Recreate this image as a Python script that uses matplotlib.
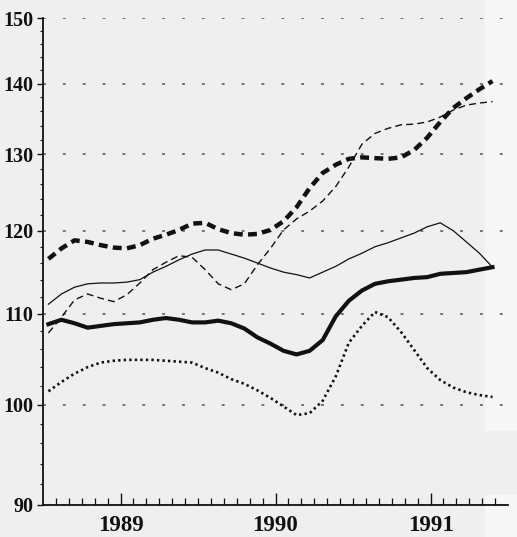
import numpy as np
import matplotlib
matplotlib.use("Agg")
import matplotlib.pyplot as plt
from matplotlib.ticker import FixedLocator, FixedFormatter, NullFormatter
from matplotlib.patches import Rectangle

# ---- data ----
x_start, x_end, n_pts = 1989.035, 1991.9, 35

heavy_dashed = [116.5, 117.8, 118.8, 118.6, 118.2, 117.9, 117.8, 118.2, 119.0, 119.5,
                120.1, 120.9, 121.0, 120.2, 119.7, 119.5, 119.6, 120.1, 121.2, 123.0,
                125.5, 127.5, 128.6, 129.4, 129.6, 129.5, 129.4, 129.6, 130.6, 132.3,
                134.5, 136.5, 137.9, 139.2, 140.4]

thin_dashed = [107.8, 109.6, 111.6, 112.3, 111.8, 111.4, 112.2, 113.6, 115.2, 116.1,
               116.9, 116.7, 115.2, 113.5, 112.8, 113.5, 115.8, 117.8, 120.1, 121.5,
               122.5, 123.8, 125.7, 128.3, 131.4, 132.9, 133.6, 134.1, 134.2, 134.5,
               135.2, 136.2, 136.9, 137.2, 137.4]

thin_solid = [111.1, 112.3, 113.1, 113.5, 113.6, 113.6, 113.7, 114.0, 114.9, 115.6,
              116.4, 117.1, 117.6, 117.6, 117.1, 116.6, 116.0, 115.4, 114.9, 114.6,
              114.2, 114.9, 115.6, 116.5, 117.2, 118.0, 118.5, 119.1, 119.7, 120.5,
              121.0, 120.0, 118.6, 117.2, 115.5]

heavy_solid = [108.8, 109.3, 108.9, 108.4, 108.6, 108.8, 108.9, 109.0, 109.3, 109.5,
               109.3, 109.0, 109.0, 109.2, 108.9, 108.3, 107.3, 106.6, 105.8, 105.4,
               105.8, 107.0, 109.7, 111.5, 112.7, 113.5, 113.8, 114.0, 114.2, 114.3,
               114.7, 114.8, 114.9, 115.2, 115.5]

dotted = [101.4, 102.4, 103.3, 104.0, 104.5, 104.7, 104.8, 104.8, 104.8, 104.7,
          104.6, 104.5, 103.9, 103.4, 102.7, 102.2, 101.5, 100.7, 99.8, 98.9,
          99.1, 100.4, 103.0, 106.7, 108.6, 110.2, 109.6, 107.9, 105.9, 103.9,
          102.6, 101.8, 101.3, 101.0, 100.8]

y_ticks = [90, 100, 110, 120, 130, 140, 150]
year_labels = ["1989", "1990", "1991"]

# ---- figure ----
bg = "#efefef"
fig = plt.figure(figsize=(5.17, 5.37), dpi=100, facecolor=bg)
# lighter scanned strip on the right edge
fig.patches.append(Rectangle((485 / 517, 107 / 537), 32 / 517, 430 / 537,
                             transform=fig.transFigure, color="#f7f7f7", zorder=-10))
fig.patches.append(Rectangle((485 / 517, 0), 32 / 517, 42 / 537,
                             transform=fig.transFigure, color="#f7f7f7", zorder=-10))

ax = fig.add_axes([43 / 517, 32 / 537, 465 / 517, 487 / 537])
ax.patch.set_alpha(0)

x = np.linspace(x_start, x_end, n_pts)
ink = "#111111"
ax.plot(x, dotted, color=ink, lw=1.9, linestyle=(0, (0.9, 1.2)), solid_capstyle="butt")
ax.plot(x, heavy_solid, color=ink, lw=3.0, solid_joinstyle="round")
ax.plot(x, thin_solid, color=ink, lw=0.9)
ax.plot(x, thin_dashed, color=ink, lw=1.0, linestyle=(0, (5, 3)))
ax.plot(x, heavy_dashed, color=ink, lw=3.2, linestyle=(0, (2.0, 1.2)), dash_capstyle="butt")

ax.set_yscale("log")
ax.set_ylim(90, 150)
ax.set_xlim(1989.0, 1992.0)

# y ticks
ax.yaxis.set_major_locator(FixedLocator(y_ticks))
ax.yaxis.set_major_formatter(FixedFormatter([str(v) for v in y_ticks]))
ax.yaxis.set_minor_locator(FixedLocator([v for v in range(90, 151, 2) if v % 10]))
ax.yaxis.set_minor_formatter(NullFormatter())
ax.tick_params(axis="y", which="major", direction="out", length=4, width=1.0,
               pad=3, labelsize=14.5, colors=ink)
ax.tick_params(axis="y", which="minor", direction="out", length=2, width=0.8, colors=ink)

# x ticks: monthly minor ticks pointing up, labels mid-year
ax.xaxis.set_major_locator(FixedLocator([1989.5 + i for i in range(len(year_labels))]))
ax.xaxis.set_major_formatter(FixedFormatter(year_labels))
ax.xaxis.set_minor_locator(FixedLocator([1989 + m / 12 for m in range(1, 36)]))
ax.tick_params(axis="x", which="major", direction="in", length=9, width=1.0,
               pad=7, labelsize=16.5, colors=ink)
ax.tick_params(axis="x", which="minor", direction="in", length=5, width=0.9, colors=ink)

for lab in ax.get_xticklabels() + ax.get_yticklabels():
    lab.set_family(["Liberation Serif", "DejaVu Serif"])
    lab.set_fontweight("bold")

# dotted horizontal grid
ax.yaxis.grid(True, which="major", color="#6a6a6a", linestyle=(0, (1.6, 9.4)), lw=1.3)
ax.xaxis.grid(False)

for side in ("top", "right"):
    ax.spines[side].set_visible(False)
for side in ("left", "bottom"):
    ax.spines[side].set_color(ink)
    ax.spines[side].set_linewidth(1.3)

fig.savefig("out.png", dpi=100, facecolor=bg)
